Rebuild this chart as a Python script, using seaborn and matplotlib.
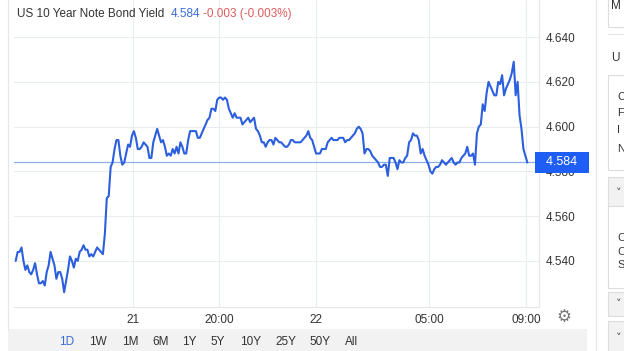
import matplotlib
matplotlib.use("Agg")
import matplotlib.pyplot as plt
import seaborn as sns
import numpy as np
import pandas as pd
from matplotlib.patches import Rectangle

sns.set_style("white")
plt.rcParams['font.family'] = ['Liberation Sans', 'DejaVu Sans']

#=======================================================================
#                                  Data
#=======================================================================
title = "US 10 Year Note Bond Yield"
last_price = "4.584"
change_txt = "-0.003 (-0.003%)"
ref_level = 4.584

yields = [
    4.540, 4.544, 4.544, 4.546, 4.540, 4.536, 4.538, 4.535, 4.534, 4.536,
    4.539, 4.534, 4.530, 4.530, 4.531, 4.529, 4.535, 4.538, 4.544, 4.541,
    4.538, 4.532, 4.535, 4.535, 4.532, 4.526, 4.531, 4.536, 4.542, 4.540,
    4.537, 4.541, 4.540, 4.544, 4.545, 4.547, 4.545, 4.545, 4.542, 4.543,
    4.542, 4.544, 4.546, 4.545, 4.544, 4.543, 4.552, 4.568, 4.569, 4.582,
    4.584, 4.590, 4.594, 4.594, 4.587, 4.583, 4.584, 4.588, 4.592, 4.591,
    4.596, 4.598, 4.595, 4.590, 4.590, 4.591, 4.593, 4.592, 4.591, 4.586,
    4.586, 4.593, 4.596, 4.599, 4.596, 4.593, 4.594, 4.591, 4.587, 4.588,
    4.587, 4.590, 4.588, 4.591, 4.588, 4.593, 4.591, 4.588, 4.588, 4.594,
    4.598, 4.598, 4.598, 4.598, 4.595, 4.595, 4.597, 4.599, 4.601, 4.603,
    4.604, 4.608, 4.608, 4.607, 4.612, 4.613, 4.613, 4.612, 4.613, 4.612,
    4.608, 4.606, 4.604, 4.606, 4.604, 4.604, 4.604, 4.601, 4.602, 4.603,
    4.604, 4.602, 4.603, 4.604, 4.599, 4.598, 4.596, 4.593, 4.593, 4.591,
    4.593, 4.594, 4.594, 4.592, 4.595, 4.594, 4.593, 4.593, 4.592, 4.591,
    4.591, 4.592, 4.594, 4.594, 4.593, 4.593, 4.593, 4.593, 4.594, 4.595,
    4.596, 4.598, 4.595, 4.594, 4.591, 4.588, 4.588, 4.588, 4.590, 4.590,
    4.590, 4.593, 4.594, 4.595, 4.594, 4.594, 4.594, 4.595, 4.595, 4.595,
    4.593, 4.594, 4.594, 4.595, 4.596, 4.597, 4.599, 4.600, 4.599, 4.597,
    4.588, 4.590, 4.590, 4.589, 4.587, 4.586, 4.585, 4.584, 4.582, 4.582,
    4.583, 4.583, 4.578, 4.586, 4.586, 4.586, 4.584, 4.581, 4.585, 4.584,
    4.584, 4.586, 4.587, 4.593, 4.594, 4.597, 4.596, 4.596, 4.594, 4.588,
    4.590, 4.587, 4.585, 4.583, 4.580, 4.579, 4.581, 4.582, 4.582, 4.583,
    4.585, 4.584, 4.583, 4.584, 4.585, 4.586, 4.584, 4.583, 4.584, 4.584,
    4.586, 4.587, 4.588, 4.591, 4.587, 4.587, 4.588, 4.583, 4.597, 4.600,
    4.601, 4.610, 4.607, 4.615, 4.620, 4.618, 4.616, 4.614, 4.614, 4.620,
    4.619, 4.623, 4.614, 4.617, 4.619, 4.621, 4.624, 4.629, 4.614, 4.620,
    4.605, 4.599, 4.590, 4.587, 4.584,
]

yticks = [4.540, 4.560, 4.580, 4.600, 4.620, 4.640]
xtick_labels = ["21", "20:00", "22", "05:00", "09:00"]
xtick_frac = [0.229, 0.397, 0.587, 0.808, 0.998]   # position along the series
ranges = ["1D", "1W", "1M", "6M", "1Y", "5Y", "10Y", "25Y", "50Y", "All"]

df = pd.DataFrame({"i": np.arange(len(yields)), "y": yields})
n = len(yields)

#=======================================================================
#                                  Plot
#=======================================================================
W, H = 624, 351
fig = plt.figure(figsize=(W / 100, H / 100), dpi=100)

def px(x, y):
    return x / W, 1 - y / H

# axes spanning x 14..539, y 0..307 pixels
ax = fig.add_axes([14 / W, 1 - 307 / H, (539 - 14) / W, 307 / H])
ax.set_facecolor("white")

sns.lineplot(data=df, x="i", y="y", ax=ax, color="#2c5fde", lw=1.5, zorder=3)
ax.axhline(ref_level, color="#8eaee6", lw=0.9, zorder=2)

ppi = 511.6 / (n - 1)
ax.set_xlim(-1.7 / ppi, (n - 1) + 11.7 / ppi)
ax.set_ylim(4.5194, 4.6566)

ax.set_yticks(yticks)
ax.set_yticklabels(["%.3f" % v for v in yticks])
ax.yaxis.tick_right()
ax.tick_params(axis="y", length=0, pad=5, labelsize=8.5, labelcolor="#333333")
ax.set_xticks([f * (n - 1) for f in xtick_frac])
ax.set_xticklabels(xtick_labels)
ax.tick_params(axis="x", length=0, pad=5, labelsize=8.5, labelcolor="#333333")
ax.set_xlabel("")
ax.set_ylabel("")
ax.grid(True, color="#e9edf2", lw=0.8)
for s in ["top", "left"]:
    ax.spines[s].set_visible(False)
for s in ["right", "bottom"]:
    ax.spines[s].set_color("#e3e6ea")
    ax.spines[s].set_linewidth(0.8)

# last price box on the right axis
ax.text(1.0, ref_level, "  " + last_price + "  ", transform=ax.get_yaxis_transform(),
        ha="left", va="center", fontsize=9, color="white", zorder=10, clip_on=False,
        bbox=dict(boxstyle="square,pad=0.35", facecolor="#1f5ef5", edgecolor="none"))

# left page border
fig.add_artist(plt.Line2D([8 / W, 8 / W], [1 - 330 / H, 1], color="#e3e6ea", lw=0.8))

# title
fig.text(*px(17, 14), title, fontsize=8.5, color="#333333", va="center")
fig.text(*px(171, 14), last_price, fontsize=8.5, color="#3b6ad8", va="center")
fig.text(*px(203, 14), change_txt, fontsize=8.5, color="#de5b5b", va="center")

# gear icon
fig.text(*px(564, 317), "\u2699", fontsize=12, color="#777777", ha="center", va="center",
         family="DejaVu Sans")

# range selector band
fig.patches.append(Rectangle(px(8, 351), (587 - 8) / W, 22 / H, transform=fig.transFigure,
                             facecolor="#f2f2f2", edgecolor="none", zorder=0))
rx = [67, 98, 130, 161, 189, 218, 251, 286, 320, 352]
for lab, x in zip(ranges, rx):
    fig.text(*px(x, 342), lab, fontsize=8.5, ha="center", va="center",
             color="#3b6ad8" if lab == "1D" else "#333333")

# right sidebar
fig.add_artist(plt.Line2D([596 / W, 596 / W], [0, 1], color="#e3e6ea", lw=0.8))
fig.patches.append(Rectangle(px(608, 27), 20 / W, 28 / H, transform=fig.transFigure,
                             facecolor="white", edgecolor="#dddddd", lw=0.8))
fig.text(*px(611, 6), "M", fontsize=8.5, color="#333333", va="center")
fig.add_artist(plt.Line2D([608 / W, 1], [1 - 34 / H] * 2, color="#e3e6ea", lw=0.8))
fig.text(*px(611, 58), "U", fontsize=8.5, color="#333333", va="center")
fig.patches.append(Rectangle(px(608, 170), 20 / W, 95 / H, transform=fig.transFigure,
                             facecolor="white", edgecolor="#dddddd", lw=0.8))
for lab, y in zip("CFIN", [97, 113, 130, 149]):
    fig.text(*px(617, y), lab, fontsize=8, color="#333333", va="center")
fig.patches.append(Rectangle(px(608, 206), 20 / W, 29 / H, transform=fig.transFigure,
                             facecolor="#f2f2f2", edgecolor="#dddddd", lw=0.8))
fig.patches.append(Rectangle(px(608, 288), 20 / W, 82 / H, transform=fig.transFigure,
                             facecolor="white", edgecolor="#dddddd", lw=0.8))
for lab, y in zip("CCS", [238, 252, 265]):
    fig.text(*px(617, y), lab, fontsize=8, color="#333333", va="center")
fig.patches.append(Rectangle(px(608, 316), 20 / W, 24 / H, transform=fig.transFigure,
                             facecolor="#f2f2f2", edgecolor="#dddddd", lw=0.8))
fig.patches.append(Rectangle(px(608, 352), 20 / W, 31 / H, transform=fig.transFigure,
                             facecolor="#f2f2f2", edgecolor="#dddddd", lw=0.8))
for y in [193, 304, 338]:
    fig.text(*px(616, y), "\u02c5", fontsize=8, color="#444444", va="center",
             family="DejaVu Sans")

plt.savefig("out.png", dpi=100)
